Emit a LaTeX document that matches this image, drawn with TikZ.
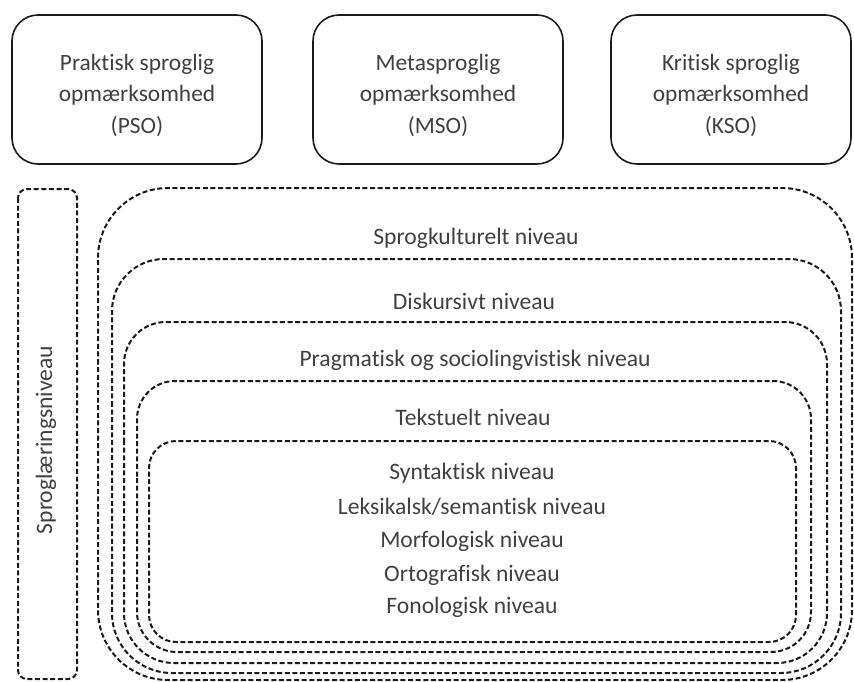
\documentclass[tikz,border=0pt]{standalone}
\usepackage{fontspec}
\setmainfont[Ligatures={NoCommon}]{Carlito}
\definecolor{txt}{HTML}{404040}
\definecolor{ln}{HTML}{1A1A1A}
\tikzset{
  topbox/.style={draw=ln, line width=1.6pt, rounded corners=26pt},
  dashbox/.style={draw=ln, line width=2pt, dash pattern=on 5pt off 2.6pt},
  lbl/.style={text=txt, font=\fontsize{23.6}{30}\selectfont, inner sep=0pt},
  toplbl/.style={lbl, align=center, font=\fontsize{23.4}{31.5}\selectfont},
}
\newcommand{\nbox}[6]{%
  \draw[dashbox] (#1,{(#3+#4)/2}) [rounded corners=#5pt] -- (#1,#3) -- (#2,#3) -- (#2,{(#3+#4)/2})
    [rounded corners=#6pt] -- (#2,#4) -- (#1,#4) -- cycle;}
\begin{document}
\begin{tikzpicture}[x=1pt,y=-1pt]
\useasboundingbox (0,0) rectangle (854,682);
% top boxes
\draw[topbox] (12,15) rectangle (262,164);
\draw[topbox] (313,15) rectangle (563,164);
\draw[topbox] (611,15) rectangle (851,164);
\node[toplbl] (pso) at (137,95) {Praktisk sproglig\\opmærksomhed\\(PSO)};
\node[toplbl] (mso) at (438,95) {Metasproglig\\opmærksomhed\\(MSO)};
\node[toplbl] (kso) at (731,95) {Kritisk sproglig\\opmærksomhed\\(KSO)};
% side box
\draw[dashbox, rounded corners=9pt] (18,189) rectangle (77,679);
\node[lbl, rotate=90] (side) at (46,440) {Sproglæringsniveau};
% nested boxes
\nbox{98}{852}{188}{680}{70}{70}
\nbox{112}{841}{259}{673}{52}{60}
\nbox{124}{827}{322}{663}{42}{50}
\nbox{137}{811}{381}{652}{38}{40}
\nbox{149}{796}{441}{642}{27}{27}
% labels
\node[lbl] (l1) at (476,238) {Sprogkulturelt niveau};
\node[lbl] (l2) at (474,301) {Diskursivt niveau};
\node[lbl] (l3) at (475,360) {Pragmatisk og sociolingvistisk niveau};
\node[lbl] (l4) at (473,417) {Tekstuelt niveau};
\node[lbl] (s1) at (472,473) {Syntaktisk niveau};
\node[lbl] (s2) at (472,507) {Leksikalsk/semantisk niveau};
\node[lbl] (s3) at (472,541) {Morfologisk niveau};
\node[lbl] (s4) at (472,575) {Ortografisk niveau};
\node[lbl] (s5) at (472,607) {Fonologisk niveau};
\end{tikzpicture}
\end{document}
